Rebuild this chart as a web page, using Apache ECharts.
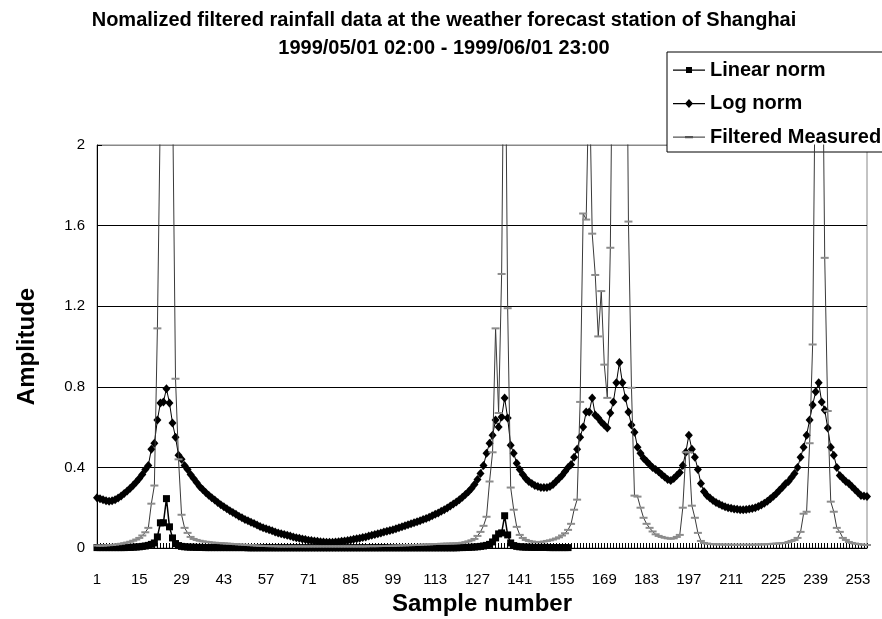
<!DOCTYPE html>
<html><head><meta charset="utf-8">
<script src="https://cdn.jsdelivr.net/npm/echarts@6/dist/echarts.min.js"></script>
<style>html,body{margin:0;padding:0;background:#fff}#c{width:882px;height:619px}</style>
</head><body><div id="c"></div><script>
const titleLine1 = 'Nomalized filtered rainfall data at the weather forecast station of Shanghai';
const titleLine2 = '1999/05/01 02:00 - 1999/06/01 23:00';
const xAxisName = 'Sample number';
const yAxisName = 'Amplitude';
const seriesNames = ['Linear norm', 'Log norm', 'Filtered Measured'];
const yTickLabels = ['0', '0.4', '0.8', '1.2', '1.6', '2'];

const samples = [
'1','2','3','4','5','6','7','8','9','10','11','12','13','14','15','16','17','18','19','20',
'21','22','23','24','25','26','27','28','29','30','31','32','33','34','35','36','37','38','39','40',
'41','42','43','44','45','46','47','48','49','50','51','52','53','54','55','56','57','58','59','60',
'61','62','63','64','65','66','67','68','69','70','71','72','73','74','75','76','77','78','79','80',
'81','82','83','84','85','86','87','88','89','90','91','92','93','94','95','96','97','98','99','100',
'101','102','103','104','105','106','107','108','109','110','111','112','113','114','115','116','117','118','119','120',
'121','122','123','124','125','126','127','128','129','130','131','132','133','134','135','136','137','138','139','140',
'141','142','143','144','145','146','147','148','149','150','151','152','153','154','155','156','157','158','159','160',
'161','162','163','164','165','166','167','168','169','170','171','172','173','174','175','176','177','178','179','180',
'181','182','183','184','185','186','187','188','189','190','191','192','193','194','195','196','197','198','199','200',
'201','202','203','204','205','206','207','208','209','210','211','212','213','214','215','216','217','218','219','220',
'221','222','223','224','225','226','227','228','229','230','231','232','233','234','235','236','237','238','239','240',
'241','242','243','244','245','246','247','248','249','250','251','252','253','254','255','256'];

const linearNorm = [
0.002,0.002,0.002,0.002,0.002,0.002,0.002,0.002,0.002,0.002,
0.003,0.003,0.004,0.005,0.006,0.008,0.010,0.013,0.018,0.025,
0.055,0.125,0.125,0.245,0.105,0.050,0.022,0.012,0.008,0.006,
0.005,0.004,0.004,0.003,0.003,0.003,0.002,0.002,0.002,0.002,
0.002,0.002,0.002,0.002,0.002,0.002,0.002,0.002,0.002,0.002,
0.001,0.001,0.001,0.001,0.001,0.001,0.001,0.001,0.001,0.001,
0.001,0.001,0.001,0.001,0.001,0.001,0.001,0.001,0.001,0.001,
0.001,0.001,0.001,0.001,0.001,0.001,0.001,0.001,0.001,0.001,
0.001,0.001,0.001,0.001,0.001,0.001,0.001,0.001,0.001,0.001,
0.001,0.001,0.001,0.001,0.001,0.001,0.001,0.001,0.001,0.001,
0.001,0.001,0.001,0.001,0.001,0.001,0.001,0.001,0.001,0.001,
0.001,0.001,0.001,0.001,0.001,0.001,0.001,0.001,0.001,0.001,
0.002,0.002,0.003,0.003,0.004,0.005,0.006,0.008,0.010,0.013,
0.018,0.030,0.050,0.070,0.075,0.160,0.065,0.025,0.012,0.008,
0.006,0.005,0.004,0.004,0.003,0.003,0.003,0.003,0.003,0.003,
0.002,0.002,0.002,0.002,0.002,0.002,0.002];

const logNorm = [
0.250,0.245,0.240,0.235,0.232,0.235,0.240,0.248,0.258,0.270,
0.283,0.297,0.312,0.328,0.345,0.365,0.390,0.410,0.490,0.520,
0.635,0.720,0.725,0.790,0.720,0.620,0.550,0.460,0.440,0.410,
0.390,0.365,0.345,0.325,0.305,0.290,0.275,0.262,0.250,0.238,
0.226,0.215,0.205,0.195,0.185,0.176,0.167,0.158,0.150,0.142,
0.135,0.128,0.121,0.114,0.107,0.101,0.095,0.090,0.085,0.080,
0.075,0.071,0.067,0.063,0.059,0.055,0.051,0.048,0.045,0.042,
0.039,0.037,0.035,0.033,0.031,0.030,0.029,0.029,0.029,0.030,
0.031,0.033,0.035,0.037,0.040,0.043,0.046,0.049,0.052,0.055,
0.059,0.063,0.067,0.071,0.075,0.079,0.083,0.087,0.091,0.095,
0.100,0.105,0.110,0.115,0.120,0.125,0.130,0.135,0.141,0.147,
0.153,0.160,0.167,0.174,0.182,0.190,0.199,0.208,0.218,0.228,
0.240,0.252,0.265,0.279,0.295,0.315,0.340,0.370,0.410,0.470,
0.520,0.560,0.635,0.600,0.650,0.745,0.645,0.510,0.470,0.420,
0.390,0.365,0.345,0.330,0.320,0.310,0.305,0.300,0.300,0.300,
0.305,0.315,0.330,0.345,0.360,0.380,0.400,0.415,0.450,0.490,
0.550,0.600,0.675,0.675,0.745,0.660,0.645,0.625,0.610,0.595,
0.670,0.725,0.820,0.920,0.820,0.745,0.675,0.610,0.575,0.500,
0.470,0.445,0.430,0.415,0.400,0.390,0.378,0.365,0.352,0.340,
0.335,0.345,0.360,0.375,0.410,0.475,0.560,0.490,0.450,0.390,
0.320,0.280,0.260,0.248,0.236,0.226,0.218,0.211,0.205,0.200,
0.197,0.194,0.192,0.190,0.190,0.191,0.193,0.196,0.200,0.206,
0.213,0.222,0.232,0.244,0.257,0.271,0.286,0.302,0.319,0.330,
0.350,0.370,0.400,0.450,0.500,0.560,0.635,0.710,0.775,0.820,
0.725,0.685,0.595,0.500,0.460,0.400,0.360,0.345,0.330,0.320,
0.305,0.290,0.275,0.260,0.258,0.255];

const filteredMeasured = [
0.012,0.012,0.012,0.013,0.014,0.015,0.017,0.019,0.021,0.024,
0.027,0.031,0.036,0.042,0.050,0.062,0.078,0.100,0.220,0.310,
1.090,2.200,3.400,4.000,3.400,2.300,0.840,0.440,0.165,0.100,
0.075,0.055,0.045,0.040,0.036,0.033,0.031,0.029,0.027,0.026,
0.025,0.024,0.023,0.022,0.021,0.020,0.019,0.018,0.017,0.016,
0.015,0.014,0.013,0.012,0.011,0.010,0.010,0.009,0.009,0.009,
0.008,0.008,0.008,0.008,0.008,0.008,0.008,0.008,0.008,0.008,
0.008,0.008,0.008,0.008,0.008,0.008,0.008,0.008,0.008,0.008,
0.008,0.008,0.008,0.008,0.008,0.008,0.008,0.008,0.008,0.008,
0.009,0.009,0.009,0.009,0.010,0.010,0.010,0.011,0.011,0.012,
0.012,0.013,0.013,0.014,0.014,0.015,0.015,0.016,0.017,0.018,
0.018,0.019,0.020,0.020,0.021,0.021,0.022,0.022,0.023,0.023,
0.024,0.026,0.029,0.033,0.038,0.045,0.060,0.080,0.110,0.155,
0.330,0.475,1.090,0.670,1.360,3.000,1.190,0.300,0.190,0.105,
0.065,0.050,0.040,0.035,0.032,0.030,0.030,0.030,0.032,0.035,
0.038,0.042,0.047,0.053,0.062,0.073,0.090,0.120,0.190,0.240,
0.725,1.660,1.630,2.400,1.560,1.355,1.050,1.275,0.910,0.745,
1.490,3.000,4.000,4.500,4.000,3.500,1.620,0.795,0.260,0.255,
0.200,0.150,0.120,0.100,0.082,0.068,0.060,0.055,0.051,0.048,
0.046,0.048,0.055,0.065,0.200,0.475,0.475,0.210,0.150,0.075,
0.035,0.025,0.022,0.020,0.019,0.018,0.018,0.017,0.017,0.017,
0.016,0.016,0.016,0.016,0.016,0.016,0.016,0.016,0.017,0.017,
0.018,0.018,0.019,0.020,0.021,0.022,0.023,0.024,0.025,0.030,
0.035,0.040,0.050,0.080,0.170,0.180,0.520,1.010,2.600,3.500,
3.000,1.440,0.680,0.230,0.180,0.100,0.080,0.050,0.040,0.030,
0.025,0.022,0.020,0.018,0.016,0.015];

const FONT = '"Liberation Sans", Arial, sans-serif';

function iconPath(marker) {
  // bounding anchors at (0,0) and (32,20) keep the icon undistorted
  return 'path://M0,0L0,0ZM32,20L32,20ZM0,9.5h32v1.2h-32z' + marker;
}
const iconLinear = iconPath('M13,7h6v6h-6z');
const iconLog = iconPath('M16,5.5L20,10L16,14.5L12,10Z');
const iconFiltered = iconPath('M12,9h8v2.2h-8z');

const chart = echarts.init(document.getElementById('c'), null, {renderer: 'canvas'});
const option = {
  animation: false,
  backgroundColor: '#ffffff',
  graphic: [
    {type: 'text', x: 444, y: 20, silent: true,
     style: {text: titleLine1, font: 'bold 20px ' + FONT, fill: '#000', textAlign: 'center', textVerticalAlign: 'middle'}},
    {type: 'text', x: 444, y: 48, silent: true,
     style: {text: titleLine2, font: 'bold 20px ' + FONT, fill: '#000', textAlign: 'center', textVerticalAlign: 'middle'}}
  ],
  legend: {
    orient: 'vertical', left: 667, top: 52,
    padding: [8, 30, 5, 6], itemGap: 13.5, itemWidth: 32, itemHeight: 20,
    backgroundColor: '#ffffff', borderColor: '#000', borderWidth: 1, borderRadius: 0,
    textStyle: {fontFamily: FONT, fontSize: 20, fontWeight: 'bold', color: '#000'},
    itemStyle: {borderWidth: 0},
    data: [
      {name: seriesNames[0], icon: iconLinear, itemStyle: {color: '#000'}},
      {name: seriesNames[1], icon: iconLog, itemStyle: {color: '#000'}},
      {name: seriesNames[2], icon: iconFiltered, itemStyle: {color: '#555'}}
    ]
  },
  grid: {left: 97, right: 15, top: 145, bottom: 71, outerBoundsMode: 'none', containLabel: false,
    show: true, borderColor: '#888', borderWidth: 1, backgroundColor: 'transparent'},
  xAxis: {
    type: 'category', data: samples, boundaryGap: false,
    name: xAxisName, nameLocation: 'middle', nameGap: 44,
    nameTextStyle: {fontFamily: FONT, fontSize: 24, fontWeight: 'bold', color: '#000'},
    axisLine: {show: true, lineStyle: {color: '#000', width: 1}},
    axisTick: {show: true, interval: 0, inside: true, length: 5, lineStyle: {color: '#000', width: 1}},
    axisLabel: {interval: 13, fontFamily: FONT, fontSize: 15, color: '#000', margin: 24},
    splitLine: {show: false}
  },
  yAxis: {
    type: 'value', min: 0, max: 2, interval: 0.4,
    name: yAxisName, nameLocation: 'middle', nameGap: 58,
    nameTextStyle: {fontFamily: FONT, fontSize: 24, fontWeight: 'bold', color: '#000'},
    axisLine: {show: true, lineStyle: {color: '#000', width: 1}},
    axisTick: {show: true, inside: true, length: 5, lineStyle: {color: '#000', width: 1}},
    axisLabel: {fontFamily: FONT, fontSize: 15, color: '#000', margin: 12,
      formatter: function (v) { return yTickLabels[Math.round(v / 0.4)]; }},
    splitLine: {show: true, lineStyle: {color: ['#000', '#000', '#000', '#000', '#000', '#888'], width: 1}}
  },
  series: [
    {name: seriesNames[0], type: 'line', data: linearNorm, symbol: 'rect', symbolSize: 7, showAllSymbol: true,
     itemStyle: {color: '#000'}, lineStyle: {color: '#000', width: 1.5}, z: 2},
    {name: seriesNames[1], type: 'line', data: logNorm, symbol: 'diamond', symbolSize: [8, 9], showAllSymbol: true,
     itemStyle: {color: '#000'}, lineStyle: {color: '#000', width: 1}, z: 3},
    {name: seriesNames[2], type: 'line', data: filteredMeasured, symbol: 'rect', symbolSize: [8, 2], showAllSymbol: true,
     itemStyle: {color: '#8c8c8c'}, lineStyle: {color: '#3a3a3a', width: 1}, z: 4}
  ]
};
chart.setOption(option);
</script></body></html>
